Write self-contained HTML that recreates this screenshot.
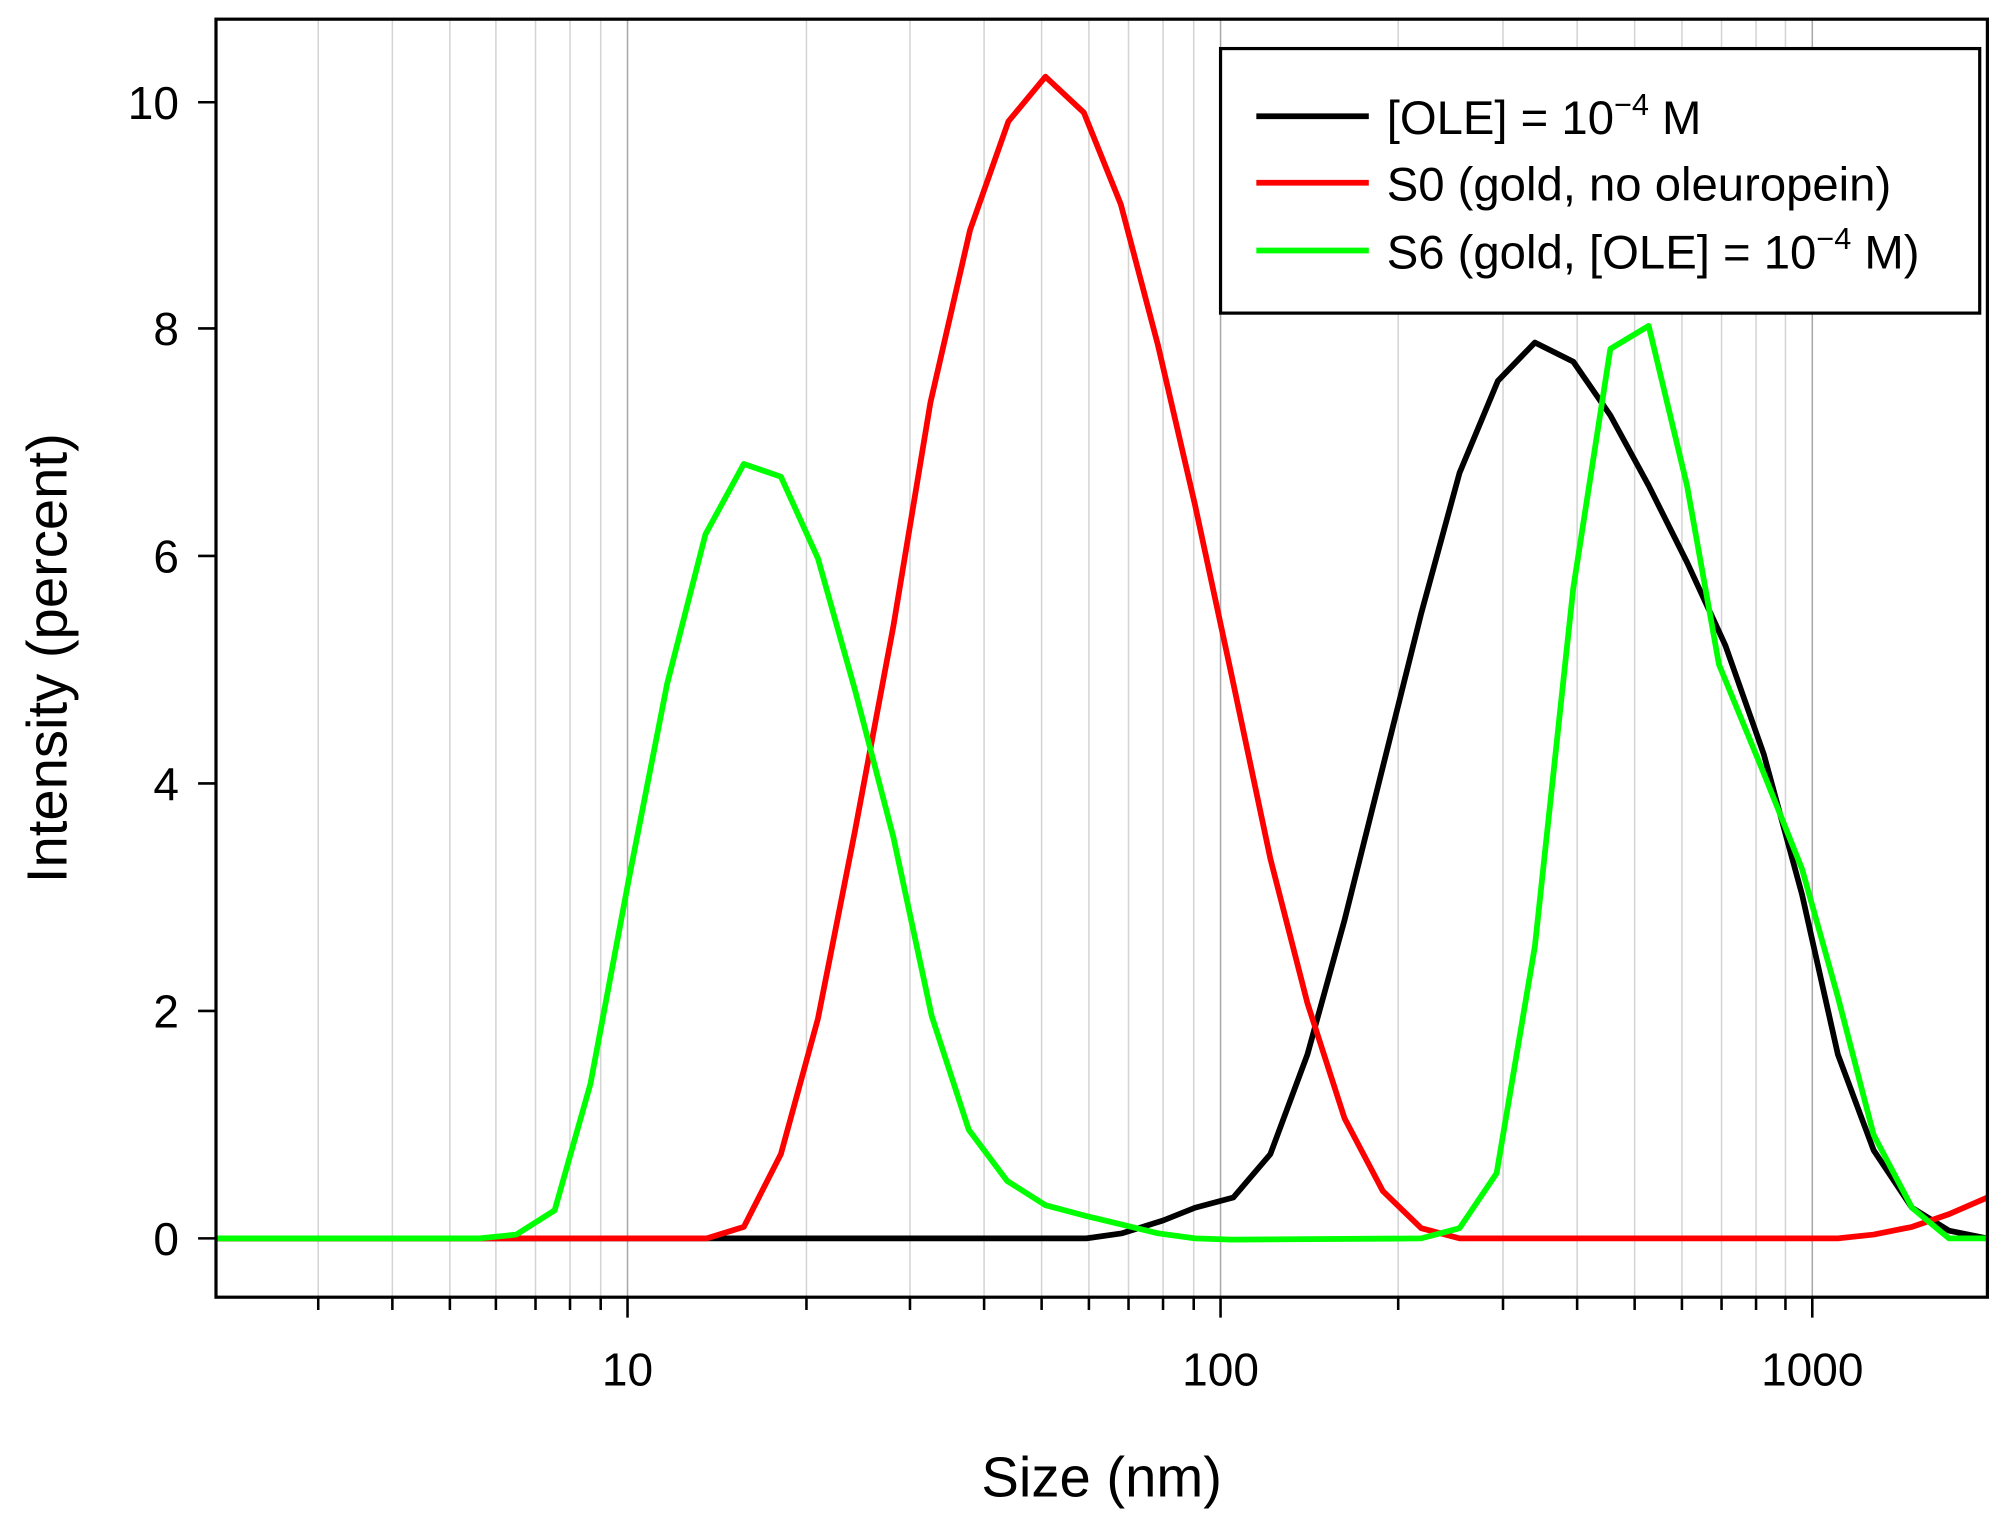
<!DOCTYPE html>
<html><head><meta charset="utf-8"><style>html,body{margin:0;padding:0;background:#fff}svg{display:block}</style></head><body>
<svg width="2004" height="1522" viewBox="0 0 1568 1190.9" preserveAspectRatio="none" xmlns="http://www.w3.org/2000/svg" font-family="Liberation Sans, sans-serif">
<rect width="1568" height="1191" fill="#fff"/>
<g stroke="#d4d4d4" stroke-width="1.2">
<line x1="249" y1="15" x2="249" y2="1015"/><line x1="307" y1="15" x2="307" y2="1015"/><line x1="352" y1="15" x2="352" y2="1015"/><line x1="388" y1="15" x2="388" y2="1015"/><line x1="419" y1="15" x2="419" y2="1015"/><line x1="446" y1="15" x2="446" y2="1015"/><line x1="470" y1="15" x2="470" y2="1015"/>
<line x1="631" y1="15" x2="631" y2="1015"/><line x1="712" y1="15" x2="712" y2="1015"/><line x1="770" y1="15" x2="770" y2="1015"/><line x1="815" y1="15" x2="815" y2="1015"/><line x1="852" y1="15" x2="852" y2="1015"/><line x1="883" y1="15" x2="883" y2="1015"/><line x1="910" y1="15" x2="910" y2="1015"/><line x1="934" y1="15" x2="934" y2="1015"/>
<line x1="1094" y1="15" x2="1094" y2="1015"/><line x1="1176" y1="15" x2="1176" y2="1015"/><line x1="1234" y1="15" x2="1234" y2="1015"/><line x1="1279" y1="15" x2="1279" y2="1015"/><line x1="1316" y1="15" x2="1316" y2="1015"/><line x1="1347" y1="15" x2="1347" y2="1015"/><line x1="1374" y1="15" x2="1374" y2="1015"/><line x1="1397" y1="15" x2="1397" y2="1015"/>
</g>
<g stroke="#a8a8a8" stroke-width="1.2"><line x1="491" y1="15" x2="491" y2="1015"/><line x1="955" y1="15" x2="955" y2="1015"/><line x1="1418" y1="15" x2="1418" y2="1015"/></g>
<g stroke="#000" stroke-width="2">
<line x1="249" y1="1015" x2="249" y2="1025"/><line x1="307" y1="1015" x2="307" y2="1025"/><line x1="352" y1="1015" x2="352" y2="1025"/><line x1="388" y1="1015" x2="388" y2="1025"/><line x1="419" y1="1015" x2="419" y2="1025"/><line x1="446" y1="1015" x2="446" y2="1025"/><line x1="470" y1="1015" x2="470" y2="1025"/>
<line x1="631" y1="1015" x2="631" y2="1025"/><line x1="712" y1="1015" x2="712" y2="1025"/><line x1="770" y1="1015" x2="770" y2="1025"/><line x1="815" y1="1015" x2="815" y2="1025"/><line x1="852" y1="1015" x2="852" y2="1025"/><line x1="883" y1="1015" x2="883" y2="1025"/><line x1="910" y1="1015" x2="910" y2="1025"/><line x1="934" y1="1015" x2="934" y2="1025"/>
<line x1="1094" y1="1015" x2="1094" y2="1025"/><line x1="1176" y1="1015" x2="1176" y2="1025"/><line x1="1234" y1="1015" x2="1234" y2="1025"/><line x1="1279" y1="1015" x2="1279" y2="1025"/><line x1="1316" y1="1015" x2="1316" y2="1025"/><line x1="1347" y1="1015" x2="1347" y2="1025"/><line x1="1374" y1="1015" x2="1374" y2="1025"/><line x1="1397" y1="1015" x2="1397" y2="1025"/>
<line x1="491" y1="1015" x2="491" y2="1031"/><line x1="955" y1="1015" x2="955" y2="1031"/><line x1="1418" y1="1015" x2="1418" y2="1031"/>
<line x1="155" y1="969" x2="169" y2="969"/><line x1="155" y1="791" x2="169" y2="791"/><line x1="155" y1="613" x2="169" y2="613"/><line x1="155" y1="435" x2="169" y2="435"/><line x1="155" y1="257" x2="169" y2="257"/><line x1="155" y1="80" x2="169" y2="80"/>
</g>
<g font-size="36" fill="#000" text-anchor="end">
<text x="140" y="982">0</text><text x="140" y="804">2</text><text x="140" y="626">4</text><text x="140" y="448">6</text><text x="140" y="270">8</text><text x="140" y="93">10</text>
</g>
<g font-size="36" fill="#000" text-anchor="middle">
<text x="491" y="1084">10</text><text x="955" y="1084">100</text><text x="1418" y="1084">1000</text>
</g>
<text x="862" y="1171" font-size="44" text-anchor="middle">Size (nm)</text>
<text transform="translate(52,515) rotate(-90)" font-size="44" text-anchor="middle">Intensity (percent)</text>
<g fill="none" stroke-width="4.5" stroke-linejoin="round">
<polyline stroke="#000" points="169,969 850,969 878,965 910,955 935,945 965,937 994,903 1023,825 1052,720 1082,600 1112,480 1142,370 1172,298 1201,268 1231,283 1260,325 1290,380 1320,440 1350,505 1380,590 1410,700 1438,825 1466,900 1496,945 1525,963 1555,969"/>
<polyline stroke="#ff0000" points="169,969 553,969 582,960 611,903 640,797 669,650 699,490 728,315 759,180 789,95 818,60 848,88 877,160 906,270 935,395 964,530 994,672 1023,785 1052,875 1082,932 1112,961 1142,969 1438,969 1466,966 1496,960 1525,950 1555,937"/>
<polyline stroke="#00ff00" points="169,969 375,969 404,966 434,947 462,848 492,688 522,535 552,418 582,363 611,373 640,437 669,540 699,655 729,795 758,884 788,924 818,943 848,951 877,958 906,965 935,969 964,970 1112,969 1142,961 1171,918 1201,740 1231,460 1260,273 1290,255 1320,380 1345,520 1380,605 1410,680 1438,780 1466,888 1496,945 1525,969 1555,969"/>
</g>
<rect x="169" y="15" width="1386" height="1000" fill="none" stroke="#000" stroke-width="2.5"/>
<rect x="955" y="38" width="594" height="207" fill="#fff" stroke="#000" stroke-width="2.5"/>
<g stroke-width="4.5"><line x1="983" y1="91" x2="1071" y2="91" stroke="#000"/><line x1="983" y1="143" x2="1071" y2="143" stroke="#ff0000"/><line x1="983" y1="196" x2="1071" y2="196" stroke="#00ff00"/></g>
<g font-size="37" fill="#000">
<text x="1085" y="105">[OLE] = 10<tspan font-size="24" dy="-15">−4</tspan><tspan dy="15"> M</tspan></text>
<text x="1085" y="157">S0 (gold, no oleuropein)</text>
<text x="1085" y="210">S6 (gold, [OLE] = 10<tspan font-size="24" dy="-15">−4</tspan><tspan dy="15"> M)</tspan></text>
</g>
</svg>
</body></html>
